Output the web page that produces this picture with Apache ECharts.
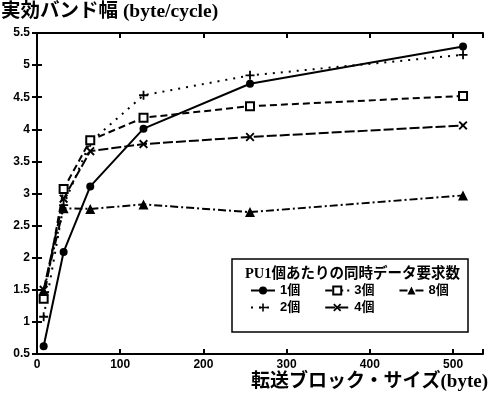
<!DOCTYPE html>
<html>
<head>
<meta charset="utf-8">
<script src="https://cdn.jsdelivr.net/npm/echarts@6/dist/echarts.min.js"></script>
<style>
  html, body { margin: 0; padding: 0; background: #fff; }
  #chart { width: 488px; height: 403px; }
</style>
</head>
<body>
<div id="chart"></div>
<script>
// 転送ブロックサイズ (byte)
var blockSizes = [8, 32, 64, 128, 256, 512];
// 実効バンド幅 (byte/cycle)
var req1 = [0.62, 2.09, 3.11, 4.01, 4.71, 5.29];
var req2 = [1.08, 2.82, 3.80, 4.53, 4.84, 5.16];
var req3 = [1.36, 3.07, 3.83, 4.18, 4.36, 4.52];
var req4 = [1.50, 2.92, 3.66, 3.77, 3.88, 4.06];
var req8 = [1.48, 2.77, 2.76, 2.83, 2.71, 2.97];
var seriesNames = ["1個", "2個", "3個", "4個", "8個"];

var sansFont = '"Liberation Sans", "Noto Sans CJK JP", sans-serif';
var serifFont = '"Liberation Serif", "Noto Sans CJK JP", serif';

function pairs(vals) {
  return blockSizes.map(function (x, i) { return [x, vals[i]]; });
}

var plusPath = "path://M4,0H6V4H10V6H6V10H4V6H0V4H4Z";
var crossPath = "path://M0,1.5L1.5,0L5,3.5L8.5,0L10,1.5L6.5,5L10,8.5L8.5,10L5,6.5L1.5,10L0,8.5L3.5,5Z";

function line(name, vals, symbol, size, dash, extraItem) {
  return {
    name: name,
    type: "line",
    data: pairs(vals),
    symbol: symbol,
    symbolSize: size,
    showAllSymbol: true,
    lineStyle: { color: "#000", width: 2, type: dash },
    itemStyle: Object.assign({ color: "#000" }, extraItem || {}),
    emphasis: { disabled: true }
  };
}

var tickStyle = { show: true, inside: true, length: 5, lineStyle: { color: "#000", width: 2 } };
var legendText = { fontFamily: sansFont, fontSize: 13, fontWeight: "bold", color: "#000" };

var option = {
  animation: false,
  backgroundColor: "#fff",
  title: [
    {
      text: "実効バンド幅 (byte/cycle)",
      left: 1, top: 2, padding: 0,
      textStyle: { fontFamily: serifFont, fontSize: 19.5, fontWeight: "bold", color: "#000" }
    },
    {
      text: "転送ブロック・サイズ(byte)",
      right: 0, top: 373, padding: 0,
      textStyle: { fontFamily: serifFont, fontSize: 19, fontWeight: "bold", color: "#000" }
    },
    {
      text: "PU1個あたりの同時データ要求数",
      left: 245, top: 267, padding: 0,
      textStyle: { fontFamily: serifFont, fontSize: 14.5, fontWeight: "bold", color: "#000" }
    }
  ],
  graphic: [
    {
      type: "rect",
      shape: { x: 232, y: 259, width: 236, height: 73 },
      style: { fill: "#fff", stroke: "#000", lineWidth: 1.5 },
      z: 3
    }
  ],
  legend: [
    {
      data: ["1個", "3個", "8個"],
      left: 250, top: 284, padding: 0, itemGap: 24,
      itemWidth: 24, itemHeight: 10,
      textStyle: legendText
    },
    {
      data: ["2個", "4個"],
      left: 250, top: 301, padding: 0, itemGap: 24,
      itemWidth: 24, itemHeight: 10,
      textStyle: legendText
    }
  ],
  grid: { left: 37, right: 5, top: 33, bottom: 49, show: false },
  xAxis: [
    {
      type: "value", min: 0, max: 536, interval: 100,
      axisLine: { show: true, lineStyle: { color: "#000", width: 2 } },
      axisTick: tickStyle,
      splitLine: { show: false },
      axisLabel: {
        margin: 5, color: "#000", fontFamily: sansFont, fontSize: 12, fontWeight: "bold",
        formatter: function (v) { return v % 100 === 0 ? String(v) : ""; }
      }
    },
    {
      type: "value", position: "top", min: 0, max: 536, interval: 100,
      axisLine: { show: true, lineStyle: { color: "#000", width: 2 } },
      axisTick: tickStyle,
      splitLine: { show: false },
      axisLabel: { show: false }
    }
  ],
  yAxis: [
    {
      type: "value", min: 0.5, max: 5.5, interval: 0.5,
      axisLine: { show: true, lineStyle: { color: "#000", width: 2 } },
      axisTick: tickStyle,
      splitLine: { show: false },
      axisLabel: { margin: 7, color: "#000", fontFamily: sansFont, fontSize: 12, fontWeight: "bold" }
    },
    {
      type: "value", position: "right", min: 0.5, max: 5.5, interval: 0.5,
      axisLine: { show: true, lineStyle: { color: "#000", width: 2 } },
      axisTick: tickStyle,
      splitLine: { show: false },
      axisLabel: { show: false }
    }
  ],
  series: [
    line(seriesNames[0], req1, "circle", 8, "solid"),
    line(seriesNames[1], req2, plusPath, 9, [2, 6]),
    line(seriesNames[2], req3, "emptyRect", 8, [7, 4], { borderWidth: 2, borderColor: "#000" }),
    line(seriesNames[3], req4, crossPath, 9, [10, 3]),
    line(seriesNames[4], req8, "triangle", 10, [8, 3, 2, 3])
  ]
};

var myChart = echarts.init(document.getElementById("chart"));
myChart.setOption(option);
</script>
</body>
</html>
